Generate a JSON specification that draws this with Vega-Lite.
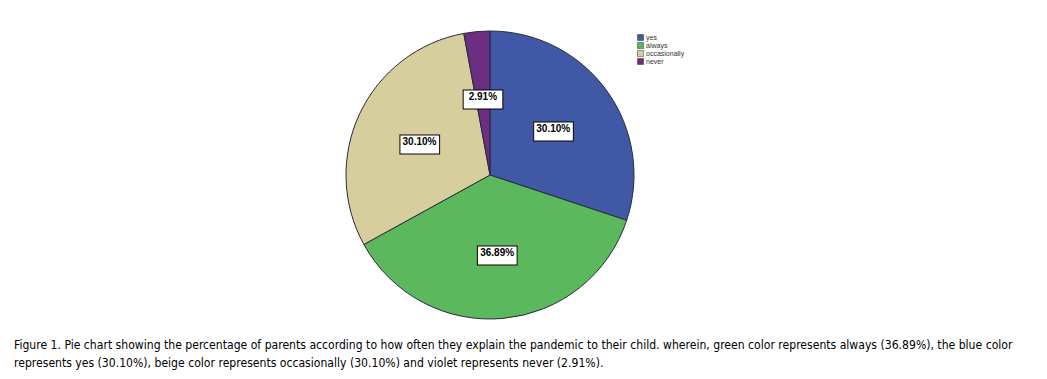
{
  "$schema": "https://vega.github.io/schema/vega-lite/v6.json",
  "width": 980,
  "height": 350,
  "padding": 0,
  "autosize": {"type": "pad"},
  "background": "white",
  "config": {"view": {"stroke": null}},
  "data": {
    "values": [
      {"answer": "yes", "pct": 30.10, "label": "30.10%", "ord": 1},
      {"answer": "always", "pct": 36.89, "label": "36.89%", "ord": 2},
      {"answer": "occasionally", "pct": 30.10, "label": "30.10%", "ord": 3},
      {"answer": "never", "pct": 2.91, "label": "2.91%", "ord": 4}
    ]
  },
  "title": {
    "text": [
      "Figure 1. Pie chart showing the percentage of parents according to how often they explain the pandemic to their child. wherein, green color represents always (36.89%), the blue color",
      "represents yes (30.10%), beige color represents occasionally (30.10%) and violet represents never (2.91%)."
    ],
    "orient": "bottom",
    "anchor": "start",
    "dx": 14,
    "offset": -11,
    "font": "DejaVu Sans Condensed",
    "fontSize": 12.1,
    "fontWeight": "normal",
    "color": "black",
    "lineHeight": 18
  },
  "encoding": {
    "theta": {"field": "pct", "type": "quantitative", "stack": true},
    "order": {"field": "ord", "type": "quantitative"}
  },
  "layer": [
    {
      "mark": {"type": "arc", "outerRadius": 144, "stroke": "#2a2a3a", "strokeWidth": 1},
      "encoding": {
        "color": {
          "field": "answer",
          "type": "nominal",
          "sort": ["yes", "always", "occasionally", "never"],
          "scale": {
            "domain": ["yes", "always", "occasionally", "never"],
            "range": ["#4058a6", "#5cb85c", "#d6cf9d", "#6b2e80"]
          },
          "legend": {
            "title": null,
            "orient": "none",
            "legendX": 637,
            "legendY": 34,
            "symbolType": "square",
            "symbolSize": 36,
            "symbolStrokeColor": "#333",
            "symbolStrokeWidth": 0.5,
            "labelFont": "Liberation Sans",
            "labelFontSize": 7,
            "labelColor": "#333",
            "labelOffset": 2,
            "rowPadding": -1,
            "padding": 0
          }
        }
      }
    },
    {
      "mark": {
        "type": "text",
        "radius": 78,
        "font": "DejaVu Sans",
        "fontSize": 52,
        "fill": "white",
        "stroke": "black",
        "strokeWidth": 1
      },
      "encoding": {"text": {"value": "▬"}}
    },
    {
      "mark": {
        "type": "text",
        "radius": 78,
        "font": "Liberation Sans",
        "fontSize": 10,
        "fontWeight": "bold",
        "color": "black"
      },
      "encoding": {"text": {"field": "label"}}
    }
  ]
}
